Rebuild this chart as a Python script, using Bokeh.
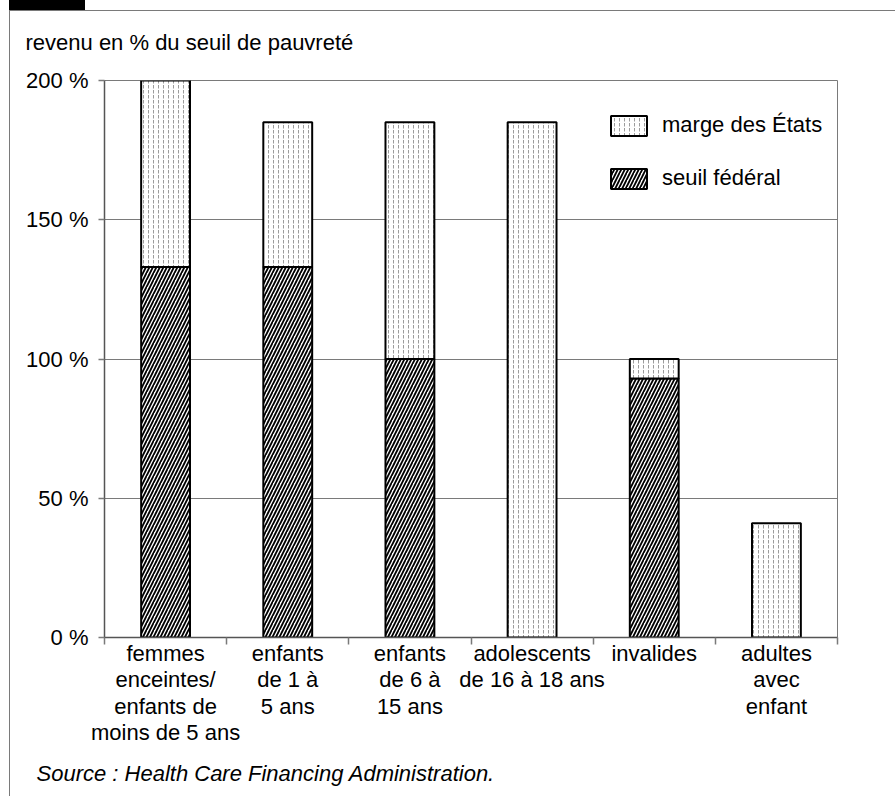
from bokeh.plotting import figure
from bokeh.models import (Range1d, FixedTicker, Legend, LegendItem, Title,
                          InlineStyleSheet)
from bokeh.embed import file_html
from bokeh.resources import INLINE

categories = ["femmes\nenceintes/\nenfants de\nmoins de 5 ans",
              "enfants\nde 1 à\n5 ans",
              "enfants\nde 6 à\n15 ans",
              "adolescents\nde 16 à 18 ans",
              "invalides",
              "adultes\navec\nenfant"]
federal = [133, 133, 100, 0, 93, 0]
total = [200, 185, 185, 185, 100, 41]
y_ticks = [0, 50, 100, 150, 200]
y_labels = ["0 %", "50 %", "100 %", "150 %", "200 %"]
series_names = ["marge des États", "seuil fédéral"]
title_text = "revenu en % du seuil de pauvreté"
source_text = "Source : Health Care Financing Administration."

FONT = "Liberation Sans"
FS = "22px"
GRAY = "#7a7a7a"

positions = list(range(len(categories)))
boundaries = [i - 0.5 for i in range(len(categories) + 1)]

p = figure(width=895, height=796, output_backend="svg", toolbar_location=None,
           x_range=Range1d(-0.5, len(categories) - 0.5), y_range=Range1d(0, 200),
           min_border_left=104, min_border_right=58, min_border_top=80, min_border_bottom=159,
           title=None)
p.background_fill_color = "white"
p.border_fill_color = "white"
p.outline_line_color = GRAY
p.outline_line_width = 1

r_fed = p.vbar(x=positions, width=0.4, bottom=0, top=federal,
               fill_color="white", line_color="black", line_width=2,
               hatch_pattern="/", hatch_color="black", hatch_scale=7, hatch_weight=1.8)
r_state = p.vbar(x=positions, width=0.4, bottom=federal, top=total,
                 fill_color="white", line_color="black", line_width=2,
                 hatch_pattern=":", hatch_color="#9c9c9c", hatch_scale=5, hatch_weight=1)

# axes
xa = p.xaxis[0]
xa.ticker = FixedTicker(ticks=positions, minor_ticks=boundaries)
xa.major_label_overrides = dict(zip(positions, categories))
xa.major_tick_out = 0
xa.major_tick_in = 0
xa.minor_tick_out = 7
xa.minor_tick_in = 0
xa.minor_tick_line_color = GRAY
xa.minor_tick_line_width = 1.5
xa.axis_line_color = "#555555"
xa.axis_line_width = 1.5
xa.major_label_text_font = FONT
xa.major_label_text_font_size = FS
xa.major_label_text_color = "black"
xa.major_label_text_line_height = 1.06
xa.major_label_standoff = -4

ya = p.yaxis[0]
ya.ticker = FixedTicker(ticks=y_ticks)
ya.major_label_overrides = dict(zip(y_ticks, y_labels))
ya.major_tick_out = 6
ya.major_tick_in = 0
ya.minor_tick_out = 0
ya.minor_tick_in = 0
ya.major_tick_line_color = GRAY
ya.major_tick_line_width = 1.5
ya.axis_line_color = "#555555"
ya.axis_line_width = 1.5
ya.major_label_text_font = FONT
ya.major_label_text_font_size = FS
ya.major_label_text_color = "black"
ya.major_label_standoff = 10

p.xgrid.visible = False
p.ygrid.ticker = FixedTicker(ticks=y_ticks)
p.ygrid.grid_line_color = GRAY
p.ygrid.grid_line_width = 1

legend = Legend(items=[LegendItem(label=series_names[0], renderers=[r_state]),
                       LegendItem(label=series_names[1], renderers=[r_fed])],
                location=(502, 446), border_line_color=None, background_fill_color="white",
                background_fill_alpha=0, padding=10, margin=0,
                glyph_width=45, glyph_height=25, label_height=25, spacing=27,
                label_standoff=11, label_text_font=FONT, label_text_font_size=FS,
                label_text_color="black")
p.add_layout(legend)

# chart heading and source as titles
p.add_layout(Title(text=title_text, align="left", offset=-79, standoff=52,
                   text_font=FONT, text_font_size=FS, text_font_style="normal",
                   text_color="black"), "above")
p.add_layout(Title(text=source_text, align="left", offset=-68, standoff=20,
                   text_font=FONT, text_font_size=FS, text_font_style="italic",
                   text_color="black"), "below")

# outer frame decoration (page border and tab)
p.stylesheets = [InlineStyleSheet(css="""
:host { position: relative; }
:host::before { content: ""; position: absolute; left: 9px; top: 0px; width: 76px; height: 10px;
  background: black; z-index: 10; pointer-events: none; }
:host::after { content: ""; position: absolute; left: 9px; top: 10px; right: 0px; bottom: 0px;
  border-top: 1px solid #7a7a7a; border-left: 1px solid #7a7a7a; z-index: 10; pointer-events: none; }
""")]

open("out.html", "w").write(file_html(p, INLINE))
